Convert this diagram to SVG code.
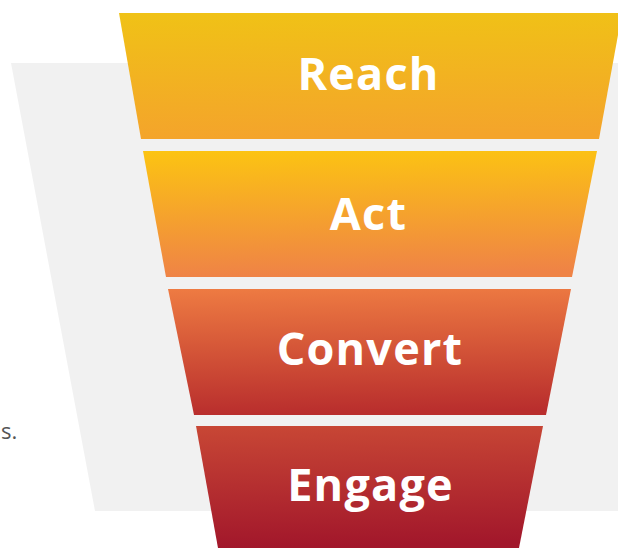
<svg xmlns="http://www.w3.org/2000/svg" width="618" height="548" viewBox="0 0 618 548">
  <style>
    .lbl { font-family: "Open Sans", "Liberation Sans", sans-serif; font-weight: 700; font-size: 45px; fill: #ffffff; text-anchor: middle; letter-spacing: 1.2px; }
    .side { font-family: "Open Sans", "Liberation Sans", sans-serif; font-size: 22px; fill: #555555; }
  </style>
  <defs>
    <linearGradient id="gReach" x1="0" y1="0" x2="0.05" y2="1">
      <stop offset="0" stop-color="#F0C216"/>
      <stop offset="1" stop-color="#F4A42B"/>
    </linearGradient>
    <linearGradient id="gAct" x1="0" y1="0" x2="0.05" y2="1">
      <stop offset="0" stop-color="#FCC412"/>
      <stop offset="1" stop-color="#EF8346"/>
    </linearGradient>
    <linearGradient id="gConvert" x1="0" y1="0" x2="0.05" y2="1">
      <stop offset="0" stop-color="#EE7B42"/>
      <stop offset="1" stop-color="#B92E2D"/>
    </linearGradient>
    <linearGradient id="gEngage" x1="0" y1="0" x2="0.05" y2="1">
      <stop offset="0" stop-color="#C84735"/>
      <stop offset="1" stop-color="#A2172B"/>
    </linearGradient>
  </defs>
  <rect width="618" height="548" fill="#ffffff"/>
  <g id="background">
    <polygon points="11,63 618,63 618,511 95,511" fill="#F1F1F1"/>
    <text class="side" x="1" y="439">s.</text>
  </g>
  <g id="connectors"></g>
  <g id="reach">
    <polygon points="119,13 622,13 599,139 141,139" fill="url(#gReach)"/>
    <text class="lbl" x="368.5" y="90">Reach</text>
  </g>
  <g id="act">
    <polygon points="143,151 597,151 572,277 166,277" fill="url(#gAct)"/>
    <text class="lbl" x="368.5" y="230">Act</text>
  </g>
  <g id="convert">
    <polygon points="168,289 571,289 546,415 194,415" fill="url(#gConvert)"/>
    <text class="lbl" x="370" y="365">Convert</text>
  </g>
  <g id="engage">
    <polygon points="196,426 543,426 519,548 218,548" fill="url(#gEngage)"/>
    <text class="lbl" x="370.5" y="501">Engage</text>
  </g>
</svg>
